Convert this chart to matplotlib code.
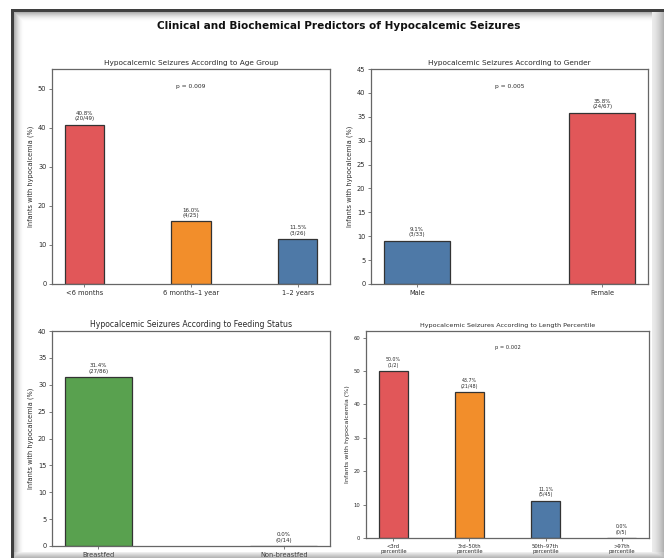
import numpy as np
import matplotlib
matplotlib.use("Agg")
import matplotlib.pyplot as plt

# ---- data ----
age_groups = ["<6 months", "6 months\u20131 year", "1\u20132 years"]
age_pct = [40.8, 16.0, 11.5]
age_counts = ["20/49", "4/25", "3/26"]

genders = ["Male", "Female"]
gender_pct = [9.1, 35.8]
gender_counts = ["3/33", "24/67"]

feeding = ["Breastfed", "Non-breastfed"]
feeding_pct = [31.4, 0.0]
feeding_counts = ["27/86", "0/14"]

length_groups = ["<3rd\npercentile", "3rd\u201350th\npercentile",
                 "50th\u201397th\npercentile", ">97th\npercentile"]
length_pct = [50.0, 43.7, 11.1, 0.0]
length_counts = ["1/2", "21/48", "5/45", "0/5"]

RED, ORANGE, BLUE, GREEN = "#E15759", "#F28E2B", "#4E79A7", "#59A14F"

W, H = 664, 558
fig = plt.figure(figsize=(W / 100, H / 100), dpi=100)
fig.patch.set_facecolor("white")

TXT = "#2a2a2a"
SPINE = "#666666"


def px_axes(left, right, top, bottom):
    return fig.add_axes([left / W, 1 - bottom / H, (right - left) / W, (bottom - top) / H])


def bar_panel(ax, cats, vals, counts, colors, title, ylim, ystep, pval=None,
              fs_title=5.3, fs_tick=4.8, fs_ann=4.0, fs_lab=4.8, width=0.37):
    x = np.arange(len(cats))
    ax.bar(x, vals, width=width, color=colors, edgecolor="#333333", linewidth=0.9)
    for xi, v, c in zip(x, vals, counts):
        ax.annotate(f"{v:.1f}%\n({c})", (xi, v), xytext=(0, 2.5), textcoords="offset points",
                    ha="center", va="bottom", fontsize=fs_ann, color=TXT, linespacing=1.1)
    ax.set_xticks(x)
    ax.set_xticklabels(cats, fontsize=fs_tick, color=TXT, linespacing=1.0)
    ax.set_ylim(0, ylim)
    ax.set_yticks(np.arange(0, ylim + 0.01, ystep))
    ax.tick_params(axis="y", labelsize=fs_tick, labelcolor=TXT, color=SPINE, length=2.5, width=0.6, pad=1.5)
    ax.tick_params(axis="x", color=SPINE, length=2.5, width=0.6, pad=1.5)
    ax.set_ylabel("Infants with hypocalcemia (%)", fontsize=fs_lab, color=TXT, labelpad=3)
    ax.set_title(title, fontsize=fs_title, color=TXT, pad=3)
    for s in ax.spines.values():
        s.set_color(SPINE)
        s.set_linewidth(0.9)
    if pval is not None:
        ax.text(0.5, 0.92, pval, transform=ax.transAxes, ha="center", va="center",
                fontsize=fs_ann + 0.3, color=TXT)


ax1 = px_axes(52, 330, 69, 284)
bar_panel(ax1, age_groups, age_pct, age_counts, [RED, ORANGE, BLUE],
          "Hypocalcemic Seizures According to Age Group", 55, 10, "p = 0.009")

ax2 = px_axes(371, 648, 69, 284)
bar_panel(ax2, genders, gender_pct, gender_counts, [BLUE, RED],
          "Hypocalcemic Seizures According to Gender", 45, 5, "p = 0.005", width=0.36)

ax3 = px_axes(52, 330, 331, 546)
bar_panel(ax3, feeding, feeding_pct, feeding_counts, [GREEN, "#999999"],
          "Hypocalcemic Seizures According to Feeding Status", 40, 5, None,
          fs_title=5.6, width=0.36)

ax4 = px_axes(366, 649, 331, 538)
bar_panel(ax4, length_groups, length_pct, length_counts, [RED, ORANGE, BLUE, "#999999"],
          "Hypocalcemic Seizures According to Length Percentile", 62, 10, "p = 0.002",
          fs_title=4.6, fs_tick=3.8, fs_ann=3.4, fs_lab=4.6, width=0.38)

fig.text(339 / W, 1 - 25.7 / H, "Clinical and Biochemical Predictors of Hypocalcemic Seizures",
         ha="center", va="center", fontsize=7.6, fontweight="bold", color="#111111")

# ---- window frame with inner shadow ----
ov = np.zeros((H, W, 4))
top, left = 9, 11
# dark border lines
ov[top:top + 3, left:, :3] = 0.25
ov[top:top + 3, left:, 3] = 1.0
ov[top:, left:left + 3, :3] = 0.25
ov[top:, left:left + 3, 3] = 1.0
# inward shadow gradient
for i in range(10):
    a = 0.45 * (1 - i / 10) ** 2
    r = top + 3 + i
    c = left + 3 + i
    ov[r, c:, :3] = 0.3
    ov[r, c:, 3] = np.maximum(ov[r, c:, 3], a)
    ov[r:, c, :3] = 0.3
    ov[r:, c, 3] = np.maximum(ov[r:, c, 3], a)
# right edge fade
for i in range(12):
    c = W - 12 + i
    a = 0.12 + 0.35 * (i / 11) ** 1.5
    ov[top + 3:, c, :3] = 0.35
    ov[top + 3:, c, 3] = a
# bottom edge
for i in range(6):
    r = H - 6 + i
    ov[r, left + 3:, :3] = 0.45
    ov[r, left + 3:, 3] = np.maximum(ov[r, left + 3:, 3], 0.12 + 0.08 * i)

oax = fig.add_axes([0, 0, 1, 1], zorder=10)
oax.imshow(ov, interpolation="nearest", aspect="auto", extent=(0, W, H, 0))
oax.set_axis_off()

fig.savefig("out.png", dpi=100)
